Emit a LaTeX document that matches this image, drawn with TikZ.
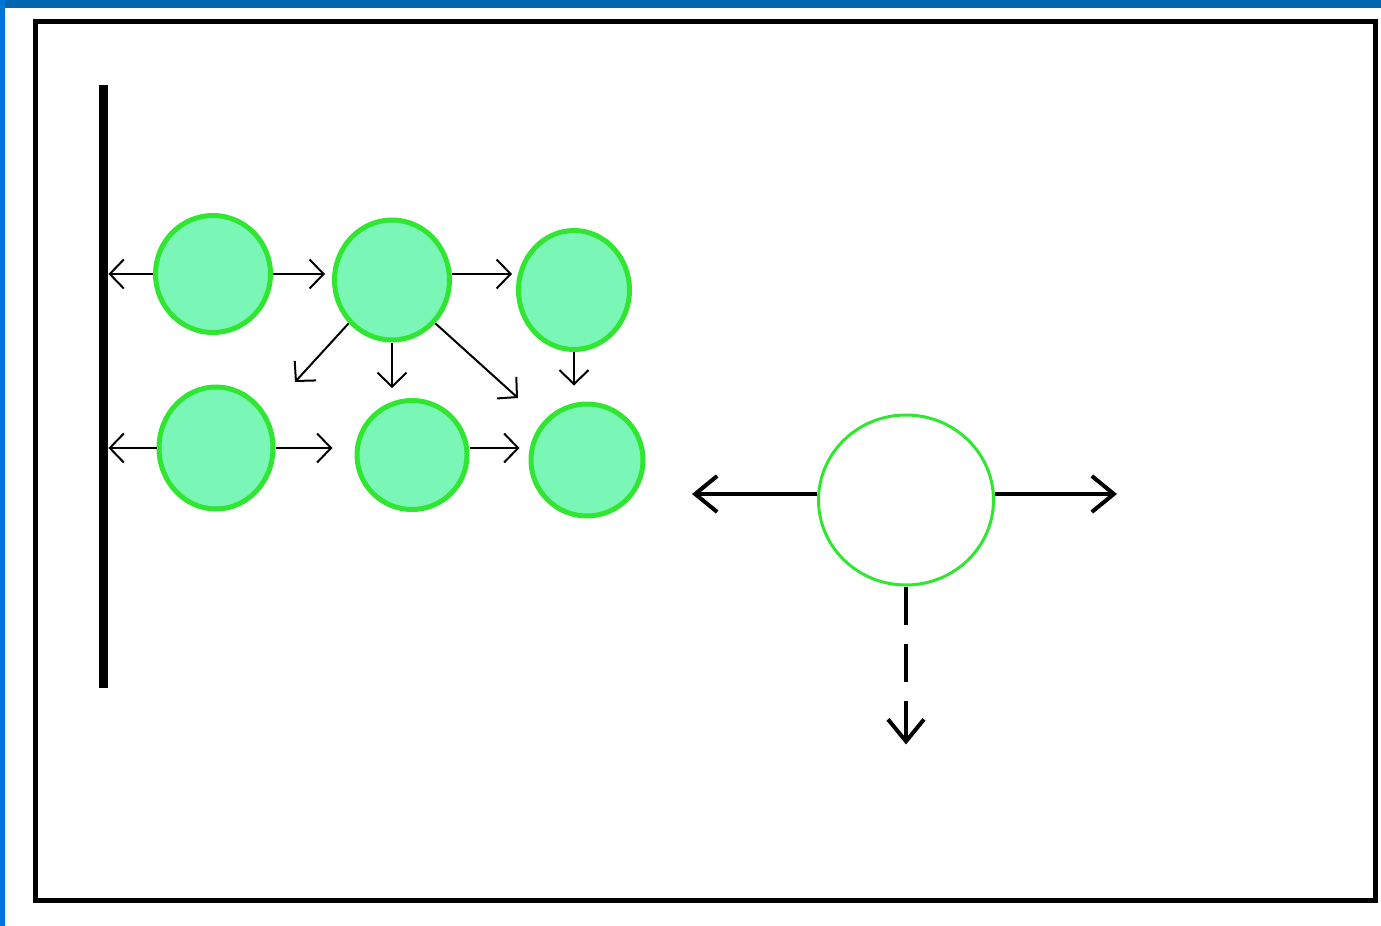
\documentclass[tikz,border=0pt]{standalone}
\usetikzlibrary{arrows.meta, positioning, shapes.geometric}
\definecolor{cellfill}{RGB}{122,246,182}
\definecolor{cellline}{RGB}{48,230,48}
\definecolor{bandtop}{RGB}{0,102,178}
\definecolor{bandleft}{RGB}{0,118,212}

\begin{document}
\begin{tikzpicture}[
    x=0.5pt, y=-0.5pt,
    cell/.style={draw=cellline, line width=2.5pt, fill=cellfill, ellipse, inner sep=0pt},
    probe/.style={draw=cellline, line width=1.5pt, fill=white, ellipse, inner sep=0pt, minimum width=87.5pt, minimum height=85pt},
    wall/.style={fill=black, inner sep=0pt, minimum width=4.5pt, minimum height=301.5pt},
    link/.style={-{Straight Barb[length=7pt, width=14.5pt]}, line width=1pt},
    flow/.style={-{Straight Barb[length=11pt, width=18pt]}, line width=2pt}
]
    \useasboundingbox (0,0) rectangle (1381,926);

    % Blue bands and frame
    \fill[bandtop] (0,0) rectangle (1381,8);
    \fill[bandleft] (0,0) rectangle (5,926);
    \draw[line width=2.5pt] (35,21) rectangle (1375,900);

    % Wall
    \node[wall] (wall) at (103.5,386.5) {};

    % Cells - upper row
    \node[cell, minimum width=57.5pt, minimum height=58.5pt] (a) at (213,274) {};
    \node[cell, minimum width=57.5pt, minimum height=60pt] (b) at (392,280) {};
    \node[cell, minimum width=55.5pt, minimum height=59.5pt] (c) at (574,290) {};

    % Cells - lower row
    \node[cell, minimum width=57pt, minimum height=61pt] (d) at (216,448) {};
    \node[cell, minimum width=55pt, minimum height=54.5pt] (e) at (412,455) {};
    \node[cell, minimum width=56pt, minimum height=56pt] (f) at (587,460) {};

    % Single cell on the right
    \node[probe] (g) at (906,500) {};

    % Free ends
    \coordinate (bsw) at (295,382);
    \coordinate (bse) at (518,398);
    \coordinate[left=62.5pt of g.west, yshift=3pt] (gw);
    \coordinate[right=61pt of g.east, yshift=3pt] (ge);
    \coordinate[below=79pt of g.south] (gs);

    % Arrows of the upper row
    \draw[link] (a.west) -- (a.west -| wall.east);
    \draw[link, shorten >=3.5pt] (a.east) -- (a.east -| b.west);
    \draw[link, shorten >=2pt] (b.east |- a.east) -- (c.west |- a.east);
    \draw[link] (b.225) -- (bsw);
    \draw[link, shorten >=5pt] (b.south) -- (b.south |- e.north);
    \draw[link] (b.315) -- (bse);
    \draw[link, shorten >=8pt] (c.south) -- (c.south |- f.north);

    % Arrows of the lower row
    \draw[link] (d.west) -- (d.west -| wall.east);
    \draw[link, shorten >=11pt] (d.east) -- (d.east -| e.west);
    \draw[link, shorten >=4.5pt] (e.east |- d.east) -- (f.west |- d.east);

    % Arrows of the right cell
    \draw[flow] ([yshift=3pt]g.west) -- (gw);
    \draw[flow] ([yshift=3pt]g.east) -- (ge);
    \draw[flow, dash pattern=on 19pt off 9.5pt] (g.south) -- (gs);
\end{tikzpicture}
\end{document}
